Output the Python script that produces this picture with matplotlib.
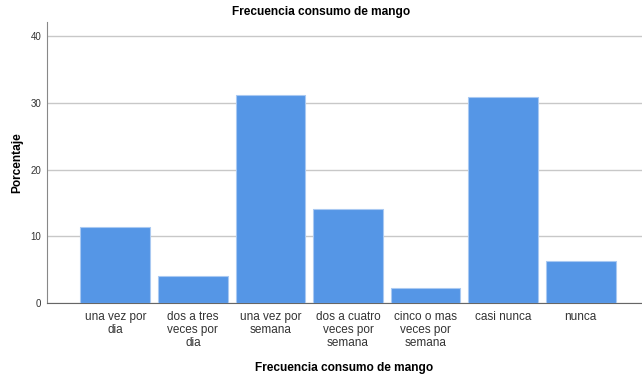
import numpy as np
import matplotlib.pyplot as plt

plt.rcParams['font.family'] = ['Liberation Sans', 'DejaVu Sans']

# datos
categorias = ['una vez por\ndia', 'dos a tres\nveces por\ndia', 'una vez por\nsemana',
              'dos a cuatro\nveces por\nsemana', 'cinco o mas\nveces por\nsemana',
              'casi nunca', 'nunca']
porcentaje = [11.4, 4.0, 31.2, 14.1, 2.2, 30.9, 6.3]
ticks_y = [0, 10, 20, 30, 40]

fig = plt.figure(figsize=(6.42, 3.77), dpi=100)
ax = fig.add_axes([47/642, 1-303/377, 1-47/642, (303-22)/377])

x = np.arange(len(categorias))
ax.bar(x, porcentaje, width=0.9, color='#5596e6', edgecolor='#a9c9f2', linewidth=0.8, zorder=3)

ax.set_xlim(-0.88, 6.79)
ax.set_ylim(0, 42.1)
ax.set_yticks(ticks_y)
ax.set_yticklabels([str(t) for t in ticks_y], fontsize=7, color='#333333')
ax.set_xticks(x)
ax.set_xticklabels(categorias, fontsize=8.5, color='#333333', linespacing=1.1)
ax.tick_params(axis='both', length=0, pad=4)
ax.tick_params(axis='x', pad=6)
ax.grid(axis='y', color='#c8c8c8', linewidth=1, zorder=0)

for lado in ['top', 'right']:
    ax.spines[lado].set_visible(False)
ax.spines['left'].set_color('#888888')
ax.spines['bottom'].set_color('#666666')

fig.text(0.5, 1-12/377, 'Frecuencia consumo de mango', fontsize=8.6, fontweight='bold',
         ha='center', va='center')
ax.set_xlabel('Frecuencia consumo de mango', fontsize=8.6, fontweight='bold', labelpad=9)
ax.set_ylabel('Porcentaje', fontsize=8.6, fontweight='bold', labelpad=5)

plt.savefig('out.png', dpi=100)
plt.close()
